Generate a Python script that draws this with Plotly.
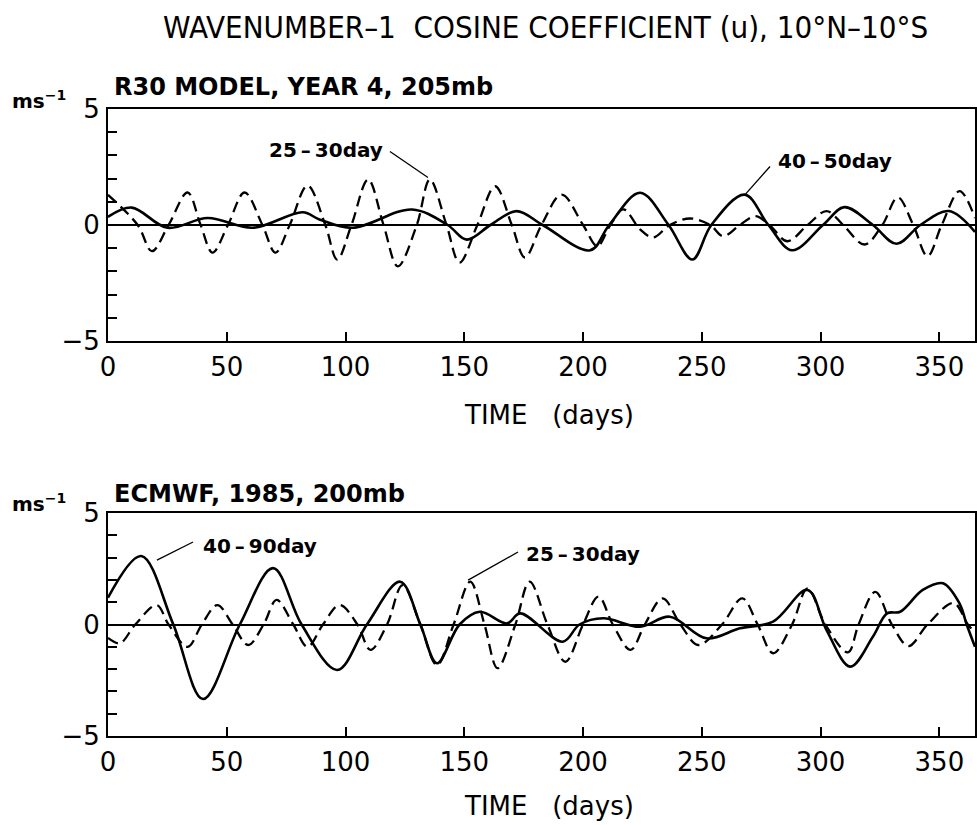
import plotly.graph_objects as go

# ---------------- data ----------------
top_solid_days = [0, 10, 25, 42, 61, 82, 89, 103, 128, 143, 151, 161, 172, 183, 203,
                  211, 224, 236, 246, 254, 268, 278, 288, 301, 310, 322, 332, 342, 354, 365]
top_solid_vals = [0.35, 0.75, -0.12, 0.3, -0.12, 0.55, 0.24, -0.12, 0.67, 0, -0.63, 0, 0.6, 0, -1.09,
                  0, 1.39, 0, -1.49, 0, 1.31, 0, -1.09, 0, 0.77, 0, -0.81, 0, 0.6, -0.3]

top_dash_days = [0, 12.5, 18.5, 25.5, 33.5, 39, 44, 50.5, 57.5, 65, 70.5, 76.5, 84, 91.5, 96.5,
                 102.5, 109.5, 116, 122, 130, 135.5, 142.5, 148, 155.5, 163, 170, 175.5, 182.5, 191, 200,
                 206, 211.5, 217, 224, 229.5, 236.5, 245, 253.5, 259, 266, 272.5, 278.5, 286, 294.5, 302.5,
                 309.5, 318.5, 326, 332.5, 339, 345, 351, 358.5, 365]
top_dash_vals = [1.3, 0, -1.13, 0, 1.4, 0, -1.19, 0, 1.4, 0, -1.19, 0, 1.7, 0, -1.49,
                 0, 1.96, 0, -1.78, 0, 1.96, 0, -1.62, 0, 1.67, 0, -1.4, 0, 1.31, 0,
                 -0.91, 0, 0.67, -0.19, -0.54, 0, 0.28, 0, -0.48, 0, 0.38, 0, -0.7, 0, 0.6,
                 0, -0.84, 0, 1.19, 0, -1.34, 0, 1.46, 0.3]

bot_solid_days = [0, 14, 27.5, 40, 55.5, 69.5, 81.5, 96.5, 109, 123, 131.5, 138.5, 148, 156.5, 168,
                  173.5, 191.5, 198.5, 208.5, 224, 236.5, 252, 266, 280, 294.5, 302.5, 312.5, 322, 328, 333.5,
                  343, 351.5, 358.5, 361.5, 365]
bot_solid_vals = [1.2, 3.07, 0, -3.34, 0, 2.53, 0, -2.04, 0, 1.92, 0, -1.74, 0, 0.57, 0.05,
                  0.5, -0.77, 0, 0.28, -0.1, 0.35, -0.62, -0.17, 0.13, 1.55, -0.25, -1.89, -0.55, 0.5, 0.57,
                  1.55, 1.85, 0.94, 0, -1.0]

bot_dash_days = [0, 5, 11.5, 20.5, 25.5, 33.5, 39.5, 46, 52.5, 59, 65.5, 71, 78, 84, 90.5,
                 97.5, 105, 110.5, 117.5, 124, 131.5, 138.5, 145.5, 152.5, 158.5, 164, 171.5, 177.5, 185, 192.5,
                 200, 206.5, 212.5, 220, 226, 233.5, 241, 248.5, 258.5, 267, 273.5, 280, 288, 294.5, 302,
                 311.5, 316, 323, 330, 337, 345, 356, 362, 365]
bot_dash_vals = [-0.6, -0.84, 0, 0.87, 0, -1.0, 0, 0.87, 0, -0.92, 0, 1.1, 0, -1.0, 0,
                 0.87, 0, -1.14, 0, 1.77, 0, -1.82, 0, 1.92, 0, -1.96, 0, 1.92, 0, -1.67,
                 0, 1.25, 0, -1.14, 0, 1.17, 0, -0.92, 0, 1.17, 0, -1.29, 0, 1.62, 0,
                 -1.25, 0, 1.46, 0, -0.97, 0, 0.96, 0, -0.35]

x_tick_vals = [0, 50, 100, 150, 200, 250, 300, 350]
y_tick_vals = [-5, 0, 5]

title_text = "WAVENUMBER\u20131\u00a0 COSINE COEFFICIENT (u), 10°N\u201310°S"
panel_titles = ["R30 MODEL, YEAR 4, 205mb", "ECMWF, 1985, 200mb"]

# labels: text, panel (1 top, 2 bottom), text centre (day, value), leader start, leader end
label_texts = ["25\u2009\u2013\u200930day", "40\u2009\u2013\u200950day", "40\u2009\u2013\u200990day", "25\u2009\u2013\u200930day"]
label_panel = [1, 1, 2, 2]
label_pos = [(91.8, 3.25), (306, 2.74), (63.8, 3.52), (199.8, 3.16)]
leader_from = [(118.7, 3.17), (278.7, 2.52), (35.8, 3.7), (172.6, 3.25)]
leader_to = [(134.7, 2.05), (268.2, 1.31), (20.6, 2.89), (151.6, 1.99)]

# ---------------- figure ----------------
W, H = 977, 825
fig = go.Figure()

solid_style = dict(color="black", width=2.6)
dash_style = dict(color="black", width=2.3, dash="11px,6px")

fig.add_trace(go.Scatter(x=top_solid_days, y=top_solid_vals, mode="lines", line=solid_style,
                         line_shape="spline", xaxis="x", yaxis="y", showlegend=False))
fig.add_trace(go.Scatter(x=top_dash_days, y=top_dash_vals, mode="lines", line=dash_style,
                         line_shape="spline", xaxis="x", yaxis="y", showlegend=False))
fig.add_trace(go.Scatter(x=bot_solid_days, y=bot_solid_vals, mode="lines", line=solid_style,
                         line_shape="spline", xaxis="x2", yaxis="y2", showlegend=False))
fig.add_trace(go.Scatter(x=bot_dash_days, y=bot_dash_vals, mode="lines", line=dash_style,
                         line_shape="spline", xaxis="x2", yaxis="y2", showlegend=False))

tick_font = dict(family="DejaVu Sans", size=26, color="black")
xdom = [108 / W, 975 / W]


def xax(anchor):
    return dict(domain=xdom, range=[0, 365], anchor=anchor, showline=True, mirror=True,
                linecolor="black", linewidth=2, ticks="inside", ticklen=9, tickwidth=2,
                tickcolor="black", tickvals=x_tick_vals, showgrid=False, zeroline=False,
                tickfont=tick_font, ticklabelstandoff=2, automargin=False)


def yax(dom, anchor):
    return dict(domain=dom, range=[-5, 5], anchor=anchor, showline=True, mirror=True,
                linecolor="black", linewidth=2, ticks="inside", ticklen=9, tickwidth=2,
                tickcolor="black", tickvals=y_tick_vals, showgrid=False,
                zeroline=True, zerolinecolor="black", zerolinewidth=1.5,
                tickfont=tick_font, ticklabelstandoff=1, automargin=False,
                minor=dict(dtick=1, ticks="inside", ticklen=9, tickwidth=2, tickcolor="black",
                           showgrid=False))


fig.update_layout(
    width=W, height=H, margin=dict(l=0, r=0, t=0, b=0, pad=0), autosize=False,
    paper_bgcolor="white", plot_bgcolor="white", showlegend=False,
    xaxis=xax("y"), yaxis=yax([1 - 341 / H, 1 - 109 / H], "x"),
    xaxis2=xax("y2"), yaxis2=yax([1 - 736 / H, 1 - 513 / H], "x2"),
)

ann = []
ann.append(dict(text=title_text, x=545 / W, y=1 - 27 / H, xref="paper", yref="paper",
                showarrow=False, xanchor="center", yanchor="middle",
                font=dict(family="Liberation Sans Narrow, DejaVu Sans Condensed, Roboto Condensed, sans-serif",
                          size=31, color="black")))
for t, yy in zip(panel_titles, [87, 494]):
    ann.append(dict(text=t, x=112 / W, y=1 - yy / H, xref="paper", yref="paper", showarrow=False,
                    xanchor="left", yanchor="middle",
                    font=dict(family="DejaVu Sans", size=24, color="black", weight="bold")))
for yy in [100, 503]:
    ann.append(dict(text="ms<sup>\u22121</sup>", x=10 / W, y=1 - yy / H, xref="paper", yref="paper",
                    showarrow=False, xanchor="left", yanchor="middle",
                    font=dict(family="DejaVu Sans", size=20, color="black", weight="bold")))
for yy in [415, 806]:
    ann.append(dict(text="TIME\u00a0\u00a0\u00a0(days)", x=549 / W, y=1 - yy / H, xref="paper", yref="paper",
                    showarrow=False, xanchor="center", yanchor="middle",
                    font=dict(family="DejaVu Sans", size=26, color="black")))
for t, p, pos in zip(label_texts, label_panel, label_pos):
    xr = "x" if p == 1 else "x2"
    yr = "y" if p == 1 else "y2"
    ann.append(dict(text=t, x=pos[0], y=pos[1], xref=xr, yref=yr, showarrow=False,
                    xanchor="center", yanchor="middle",
                    font=dict(family="DejaVu Sans", size=20, color="black", weight="bold")))
fig.update_layout(annotations=ann)

shapes = []
for p, a, b in zip(label_panel, leader_from, leader_to):
    xr = "x" if p == 1 else "x2"
    yr = "y" if p == 1 else "y2"
    shapes.append(dict(type="line", xref=xr, yref=yr, x0=a[0], y0=a[1], x1=b[0], y1=b[1],
                       line=dict(color="black", width=1.3)))
fig.update_layout(shapes=shapes)

fig.write_html("out.html")
